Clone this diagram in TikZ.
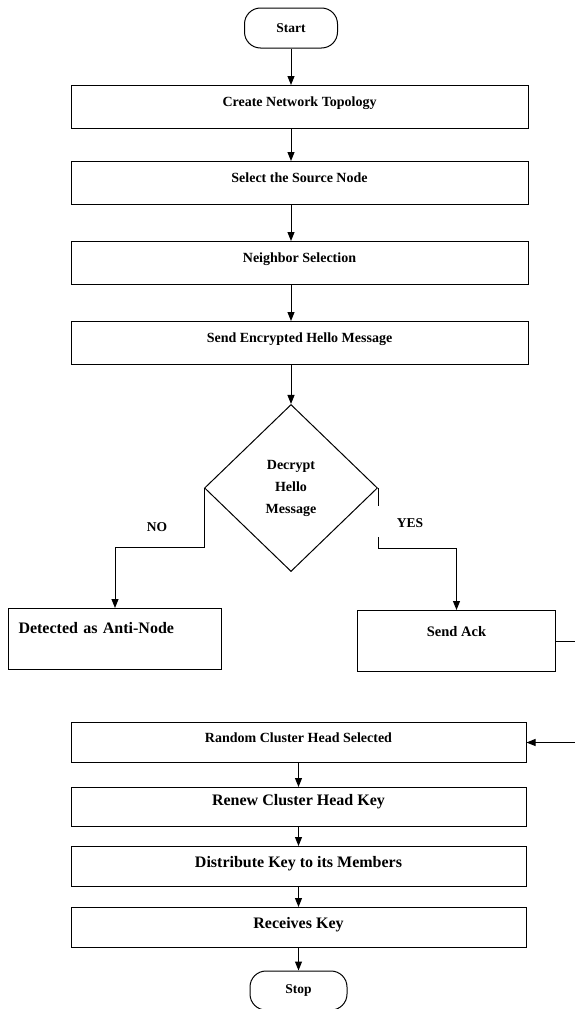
\documentclass[tikz,border=0pt]{standalone}
\usepackage{fontspec}
\setmainfont{Liberation Serif}
\usepackage{tikz}
\usetikzlibrary{shapes.geometric,arrows.meta}

\begin{document}
\begin{tikzpicture}[x=1pt, y=-1pt, line width=1pt,
  >={Triangle[length=9pt,width=7pt]},
  procbox/.style={draw, rectangle, anchor=north, minimum width=457pt, inner xsep=4pt, inner ysep=0pt,
    font=\fontsize{14}{17}\selectfont\bfseries, text height=21pt, text depth=22pt},
  keybox/.style={procbox, minimum width=455pt, text height=20pt, text depth=20pt},
  bigfont/.style={font=\fontsize{16}{19}\selectfont\bfseries},
  sidebox/.style={draw, rectangle, anchor=north west, inner ysep=0pt},
  termbox/.style={draw, rectangle, rounded corners=16pt, minimum width=93pt, minimum height=40pt,
    font=\fontsize{13.5}{16}\selectfont\bfseries},
  decbox/.style={draw, diamond, minimum width=173pt, minimum height=167pt, inner sep=0pt, align=center,
    font=\fontsize{14}{22}\selectfont\bfseries},
  answer/.style={font=\fontsize{13.5}{16}\selectfont\bfseries}]
\useasboundingbox (0,0) rectangle (574,1009);

\node[termbox] (start) at (291,28) {Start};
\node[procbox] (topo) at (299.5,85) {Create Network Topology};
\node[procbox] (src) at (299.5,161) {Select the Source Node};
\node[procbox] (nbr) at (299.5,241) {Neighbor Selection};
\node[procbox] (hello) at (299.5,321) {Send Encrypted Hello Message};
\node[decbox] (dec) at (291,488) {Decrypt\\Hello\\Message};

\node[sidebox, bigfont, minimum width=213pt, text width=193pt, inner xsep=10pt, align=left,
  text height=25pt, text depth=36pt] (anti) at (8,608) {Detected as Anti-Node};
\node[sidebox, minimum width=198pt, font=\fontsize{14.5}{17}\selectfont\bfseries,
  text height=26pt, text depth=35pt] (ack) at (357,610) {Send Ack};

\node[keybox] (rand) at (298.5,722) {Random Cluster Head Selected};
\node[keybox, bigfont, text height=18pt, text depth=21pt] (renew) at (298.5,787) {Renew Cluster Head Key};
\node[keybox, bigfont, text height=21pt, text depth=19pt] (dist) at (298.5,846) {Distribute Key to its Members};
\node[keybox, bigfont, text height=21pt, text depth=19pt] (recv) at (298.5,907) {Receives Key};
\node[termbox, minimum width=97pt, minimum height=39pt] (stop) at (298.5,990.5) {Stop};

\path[->]
  (start) edge (start |- topo.north)
  (topo.south -| start) edge (src.north -| start)
  (src.south -| start) edge (nbr.north -| start)
  (nbr.south -| start) edge (hello.north -| start)
  (hello.south -| dec) edge (dec)
  (rand) edge (renew)
  (renew) edge (dist)
  (dist) edge (recv)
  (recv) edge (stop)
;

% branches
\draw[->] (dec.west) -- ++(0,59) -| (anti.north);
\node[answer] (no) at (157,527) {NO};
\draw[->] (dec.east) -- ++(0,18) ++(0,31) -- ++(0,11) -| (ack.north);
\node[answer] (yes) at (410,523) {YES};
\draw[->] (ack.east) -- ++(35,0) |- (rand.east);
\end{tikzpicture}
\end{document}
